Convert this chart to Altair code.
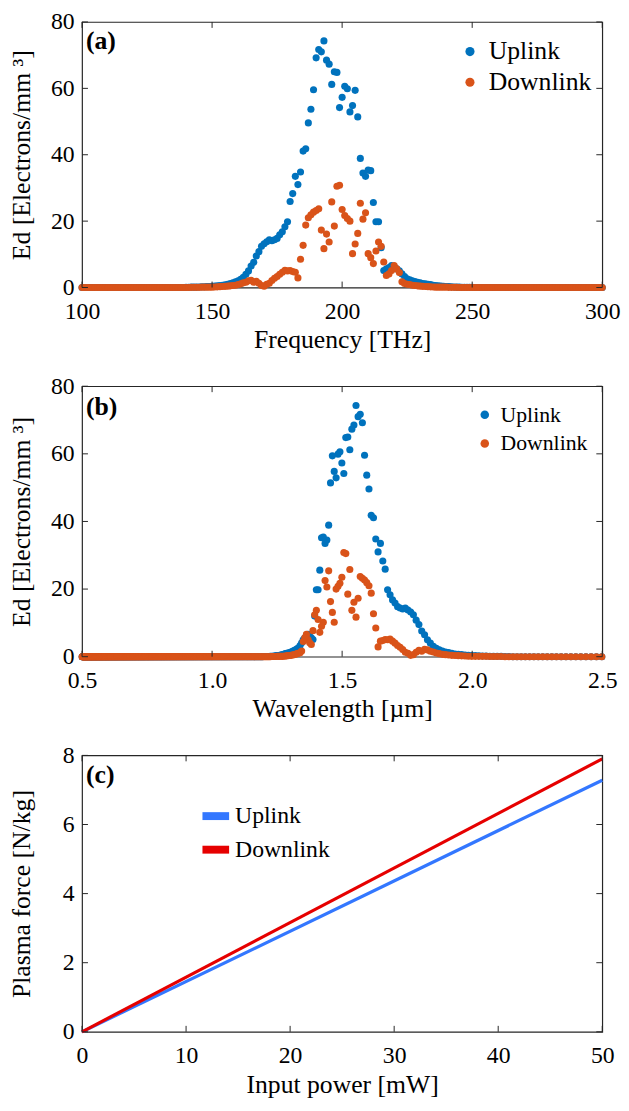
import altair as alt
import pandas as pd

FONT = "Liberation Serif"
AXC = "#262626"

# ---------------- data: spectra (a) & (b) ----------------
freq_grid = list(range(100, 601))          # THz, sampled every 1 THz
peak_start = 140                            # first THz of the listed (non-zero) region
uplink_peak = [
    0.05, 0.05, 0.1, 0.1, 0.1, 0.15, 0.2, 0.2, 0.25, 0.3,
    0.35, 0.4, 0.5, 0.6, 0.7, 0.8, 1.0, 1.2, 1.4, 1.7,
    2.0, 2.5, 3.1, 4.0, 5.0, 6.5, 7.6, 9.5, 10.8, 12.4,
    13.2, 13.8, 14.4, 14.1, 14.4, 14.8, 15.9, 16.8, 18.3, 19.8,
    25.9, 28.3, 33.5, 31.0, 34.8, 41.1, 41.8, 49.6, 53.7, 59.6,
    69.2, 71.7, 71.0, 74.3, 68.5, 67.3, 61.2, 65.0, 64.8, 54.2,
    57.3, 60.6, 59.9, 52.9, 54.8, 59.4, 51.4, 38.9, 34.5, 33.5,
    35.4, 35.2, 25.6, 19.8, 19.8, 12.0, 5.1, 5.6, 6.0, 6.6,
    6.3, 5.6, 5.0, 4.1, 3.3, 2.6, 2.3, 2.0, 1.8, 1.6,
    1.4, 1.2, 1.1, 1.0, 0.9, 0.7, 0.6, 0.5, 0.4, 0.35,
    0.3, 0.25, 0.2, 0.15, 0.1, 0.1, 0.05, 0.05, 0.05, 0.05, 0.05,
]
downlink_peak = [
    0.0, 0.0, 0.05, 0.05, 0.05, 0.05, 0.1, 0.1, 0.1, 0.1,
    0.1, 0.15, 0.2, 0.25, 0.3, 0.35, 0.4, 0.5, 0.6, 0.7,
    0.9, 1.1, 1.4, 1.6, 2.0, 2.2, 1.6, 1.9, 1.3, 0.6,
    0.4, 1.0, 1.3, 2.1, 2.8, 3.3, 4.0, 4.6, 5.2, 5.0,
    5.1, 4.8, 4.6, 2.9, 8.5, 12.7, 18.8, 21.0, 21.9, 22.7,
    23.2, 23.7, 17.3, 11.7, 16.1, 13.7, 25.8, 18.5, 30.5, 30.8,
    23.5, 21.7, 20.8, 20.0, 10.2, 13.1, 16.3, 25.4, 20.6, 22.5,
    10.2, 9.0, 7.2, 11.0, 13.7, 12.4, 7.7, 3.6, 4.1, 5.1,
    6.6, 5.6, 4.5, 1.7, 1.2, 1.0, 0.9, 0.7, 0.6, 0.5,
    0.4, 0.35, 0.3, 0.25, 0.2, 0.15, 0.1, 0.1, 0.1, 0.1,
    0.1, 0.05, 0.05, 0.05, 0.05, 0.0, 0.0, 0.0, 0.0, 0.0, 0.0,
]
C_UM_THZ = 299.792458  # speed of light in um*THz

freq_ticks = [100, 150, 200, 250, 300]
wl_ticks = [0.5, 1.0, 1.5, 2.0, 2.5]
ed_ticks = [0, 20, 40, 60, 80]

# ---------------- data: plasma force (c) ----------------
power = [0, 50]
uplink_force = [0, 7.28]
downlink_force = [0, 7.9]
power_ticks = [0, 10, 20, 30, 40, 50]
force_ticks = [0, 2, 4, 6, 8]

series_names = ["Uplink", "Downlink"]


def full(peak):
    vals = [0.0] * len(freq_grid)
    for i, v in enumerate(peak):
        vals[peak_start - freq_grid[0] + i] = v
    return vals


n = len(freq_grid)
spec = pd.DataFrame({
    "freq": freq_grid + freq_grid,
    "Ed": full(uplink_peak) + full(downlink_peak),
    "series": ["Uplink"] * n + ["Downlink"] * n,
})
force = pd.DataFrame({
    "power": power + power,
    "F": uplink_force + downlink_force,
    "series": ["Uplink"] * len(power) + ["Downlink"] * len(power),
})

W = 527
HA, HB, HC = 269, 274, 280
TL = 6
DOT = 52

AX_STYLE = dict(labelFont=FONT, labelFontSize=24, labelColor="black", labelFlush=False,
                titleFont=FONT, titleFontSize=26, titleFontWeight="normal", titleColor="black",
                domain=False, ticks=False, grid=False)


def xaxis(values, title, **kw):
    return alt.Axis(values=values, title=title, labelPadding=12, titlePadding=4, **AX_STYLE, **kw)


def yaxis(values, title, tp):
    return alt.Axis(values=values, title=title, labelPadding=8, titlePadding=tp, **AX_STYLE)


def inward_ticks(xf, xticks, xs, xax, yf, yticks, ys, yax, w, h):
    xt = pd.DataFrame({xf: xticks})
    yt = pd.DataFrame({yf: yticks})
    kw = dict(color=AXC, strokeWidth=1)
    X = alt.X(f"{xf}:Q", scale=xs, axis=xax)
    Y = alt.Y(f"{yf}:Q", scale=ys, axis=yax)
    return [
        alt.Chart(xt).mark_rule(**kw).encode(x=X, y=alt.value(h), y2=alt.value(h - TL)),
        alt.Chart(xt).mark_rule(**kw).encode(x=X, y=alt.value(0), y2=alt.value(TL)),
        alt.Chart(yt).mark_rule(**kw).encode(y=Y, x=alt.value(0), x2=alt.value(TL)),
        alt.Chart(yt).mark_rule(**kw).encode(y=Y, x=alt.value(w - TL), x2=alt.value(w)),
    ]


def panel_label(txt, y):
    return alt.Chart(pd.DataFrame({"t": [txt]})).mark_text(
        font=FONT, fontSize=26, fontWeight="bold", align="left", baseline="middle", color="black"
    ).encode(text="t:N", x=alt.value(4), y=alt.value(y))


def legend(**kw):
    return alt.Legend(orient="none", title=None, padding=0, labelFont=FONT, labelColor="black", **kw)


ab_colors = alt.Scale(domain=series_names, range=["#0072BD", "#D95319"])
ED_TITLE = "Ed [Electrons/mm ³]"

# ---------- panel (a) ----------
xa = alt.Scale(domain=[100, 300], nice=False, zero=False)
ya = alt.Scale(domain=[0, 80], nice=False)
xa_ax = xaxis(freq_ticks, "Frequency [THz]")
ya_ax = yaxis(ed_ticks, ED_TITLE, 16)
pts_a = alt.Chart(spec).transform_filter("datum.freq <= 300").mark_circle(size=DOT, opacity=1).encode(
    x=alt.X("freq:Q", scale=xa, axis=xa_ax),
    y=alt.Y("Ed:Q", scale=ya, axis=ya_ax),
    color=alt.Color("series:N", scale=ab_colors, legend=legend(
        legendX=380, legendY=17, labelFontSize=26, symbolSize=85, labelOffset=6, rowPadding=5)),
)
panel_a = alt.layer(pts_a, *inward_ticks("freq", freq_ticks, xa, xa_ax, "Ed", ed_ticks, ya, ya_ax, W, HA),
                    panel_label("(a)", 19)).properties(width=W, height=HA)

# ---------- panel (b) ----------
xb = alt.Scale(domain=[0.5, 2.5], nice=False, zero=False)
yb = alt.Scale(domain=[0, 80], nice=False)
xb_ax = xaxis(wl_ticks, "Wavelength [µm]", format=".1f")
yb_ax = yaxis(ed_ticks, ED_TITLE, 16)
pts_b = alt.Chart(spec).transform_calculate(
    wl=f"{C_UM_THZ} / datum.freq"
).transform_filter("datum.wl >= 0.5 && datum.wl <= 2.5").mark_circle(size=DOT, opacity=1).encode(
    x=alt.X("wl:Q", scale=xb, axis=xb_ax),
    y=alt.Y("Ed:Q", scale=yb, axis=yb_ax),
    color=alt.Color("series:N", scale=ab_colors, legend=legend(
        legendX=397, legendY=18, labelFontSize=22, symbolSize=75, labelOffset=5, rowPadding=7)),
)
panel_b = alt.layer(pts_b, *inward_ticks("wl", wl_ticks, xb, xb_ax, "Ed", ed_ticks, yb, yb_ax, W, HB),
                    panel_label("(b)", 21)).properties(width=W, height=HB)

# ---------- panel (c) ----------
xc = alt.Scale(domain=[0, 50], nice=False)
yc = alt.Scale(domain=[0, 8], nice=False)
xc_ax = xaxis(power_ticks, "Input power [mW]")
yc_ax = yaxis(force_ticks, "Plasma force [N/kg]", 28)
c_colors = alt.Scale(domain=series_names, range=["#3377FF", "#E60000"])
c_legend = legend(legendX=118, legendY=44, labelFontSize=24,
                  symbolType="stroke", symbolStrokeWidth=8, symbolSize=729,
                  labelOffset=2, rowPadding=0)


def force_line(name):
    return alt.Chart(force).transform_filter(f"datum.series == '{name}'").mark_line(strokeWidth=3.2).encode(
        x=alt.X("power:Q", scale=xc, axis=xc_ax),
        y=alt.Y("F:Q", scale=yc, axis=yc_ax),
        color=alt.Color("series:N", scale=c_colors, legend=c_legend),
    )


panel_c = alt.layer(force_line("Uplink"), force_line("Downlink"),
                    *inward_ticks("power", power_ticks, xc, xc_ax, "F", force_ticks, yc, yc_ax, W, HC),
                    panel_label("(c)", 20)).properties(width=W, height=HC)

chart = alt.vconcat(panel_a, panel_b, panel_c, spacing=20).resolve_scale(
    color="independent", x="independent", y="independent"
).resolve_legend(color="independent").properties(
    padding={"left": 0, "top": -6, "right": 0, "bottom": 0}
).configure(font=FONT).configure_view(stroke=AXC, strokeWidth=1.2)

chart.save("out.html", embed_options={"renderer": "svg", "actions": False})
